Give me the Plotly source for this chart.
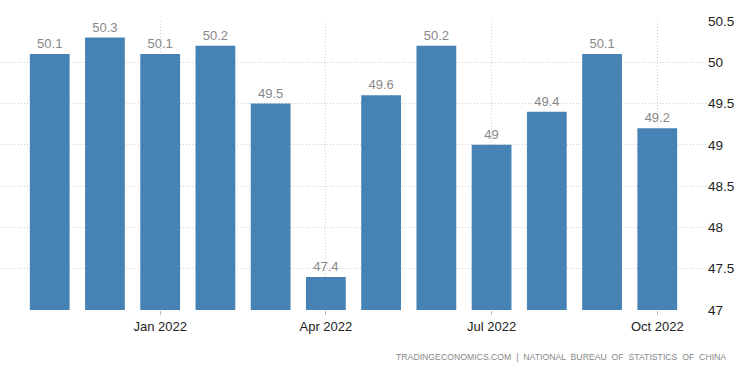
import plotly.graph_objects as go

months = ["Nov 2021", "Dec 2021", "Jan 2022", "Feb 2022", "Mar 2022", "Apr 2022",
          "May 2022", "Jun 2022", "Jul 2022", "Aug 2022", "Sep 2022", "Oct 2022"]
values = [50.1, 50.3, 50.1, 50.2, 49.5, 47.4, 49.6, 50.2, 49.0, 49.4, 50.1, 49.2]
value_labels = ["50.1", "50.3", "50.1", "50.2", "49.5", "47.4", "49.6", "50.2", "49", "49.4", "50.1", "49.2"]
x_ticks = ["Jan 2022", "Apr 2022", "Jul 2022", "Oct 2022"]
y_ticks = [47, 47.5, 48, 48.5, 49, 49.5, 50, 50.5]
y_tick_labels = ["47", "47.5", "48", "48.5", "49", "49.5", "50", "50.5"]

fig = go.Figure(go.Bar(
    x=months, y=values,
    marker=dict(color="#4682B4", line=dict(width=0)),
    width=0.72,
    text=value_labels, textposition="outside",
    textfont=dict(color="#888888", size=13, family="Arial"),
    cliponaxis=False,
))

fig.update_layout(
    width=750, height=373,
    margin=dict(l=0, r=43, t=21, b=63),
    plot_bgcolor="white", paper_bgcolor="white",
    showlegend=False,
    font=dict(family="Arial", color="#333333"),
    uniformtext=dict(minsize=13, mode="show"),
    xaxis=dict(
        type="category", range=[-0.9, 11.9],
        tickvals=x_ticks, ticktext=x_ticks,
        showgrid=True, gridcolor="#cfcfcf", griddash="1px,2px", gridwidth=1,
        ticks="outside", ticklen=4, tickcolor="#bbbbbb",
        tickfont=dict(size=13, color="#222222"),
        showline=False, zeroline=False,
    ),
    yaxis=dict(
        side="right", range=[47, 50.5],
        tickvals=y_ticks, ticktext=y_tick_labels,
        showgrid=True, gridcolor="#cfcfcf", griddash="1px,2px", gridwidth=1,
        tickfont=dict(size=13.5, color="#222222"),
        zeroline=False, showline=False, ticks="",
    ),
    annotations=[dict(
        text="TRADINGECONOMICS.COM  |  NATIONAL  BUREAU  OF  STATISTICS  OF  CHINA",
        xref="paper", yref="paper", x=1.0, y=0, xanchor="right", yanchor="middle",
        yshift=-47, xshift=21,
        showarrow=False, font=dict(size=8.7, color="#888888", family="Arial"),
    )],
)

fig.write_html("out.html", config={"displayModeBar": False},
               post_script="document.body.style.margin='0';")
